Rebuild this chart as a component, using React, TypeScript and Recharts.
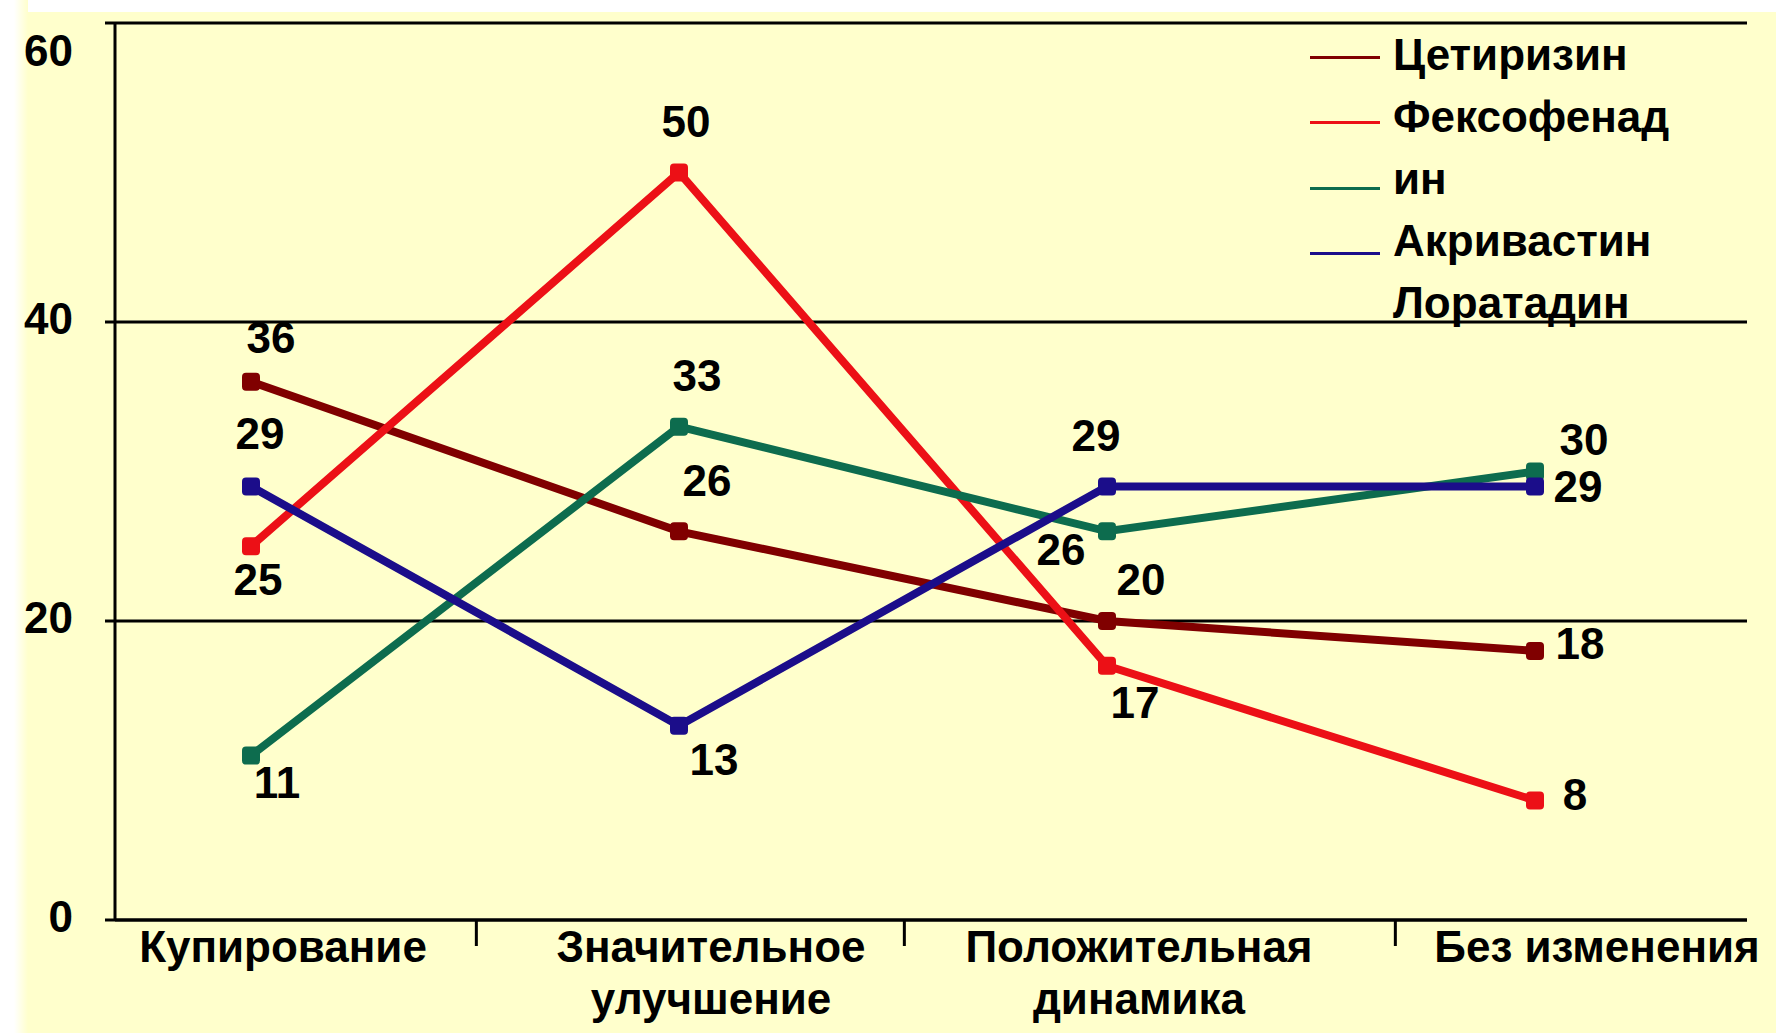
import { useEffect } from "react";
import { LineChart, Line, XAxis, YAxis, CartesianGrid, Legend, LabelList } from "recharts";

// outcome categories and share of patients (%) per drug
const categories = ["Купирование", "Значительное улучшение", "Положительная динамика", "Без изменения"];
const cetirizine = [36, 26, 20, 18];
const fexofenadine = [25, 50, 17, 8];
const acrivastine = [11, 33, 26, 30];
const loratadine = [29, 13, 29, 29];
const yTicks = [0, 20, 40, 60];

const data = categories.map((name, i) => ({
  name,
  cet: cetirizine[i],
  fex: fexofenadine[i],
  acr: acrivastine[i],
  lor: loratadine[i],
}));

const FONT = "'Liberation Sans', Arial, sans-serif";
const BG = "#ffffcc";
const W = 1776;
const H = 1033;
const STEP = 426.7; // distance between category points

// label offsets (dx, dy) from each point
const series = [
  { key: "cet", name: "Цетиризин", color: "#800000", labels: [[20, -44], [28, -51], [34, -42], [45, -7]] },
  { key: "fex", name: "Фексофенадин", color: "#ec1016", labels: [[7, 33], [7, -51], [28, 37], [40, -6]] },
  { key: "acr", name: "Акривастин", color: "#0d6c4e", labels: [[26, 27], [18, -51], [-46, 18], [49, -32]] },
  { key: "lor", name: "Лоратадин", color: "#1b0d8a", labels: [[9, -53], [35, 34], [-11, -51], [43, 0]] },
];

const makeLabel = (offsets: number[][]) => (props: any) => {
  const x = props.x ?? props.viewBox?.x;
  const y = props.y ?? props.viewBox?.y;
  const [dx, dy] = offsets[props.index] || [0, 0];
  return (
    <text x={x + dx} y={y + dy} textAnchor="middle" dominantBaseline="central"
      fontFamily={FONT} fontWeight={700} fontSize={44} fill="#000">
      {props.value}
    </text>
  );
};

const SquareDot = (color: string) => (props: any) => {
  const { cx, cy, index } = props;
  if (cx == null || cy == null) return <g key={index} />;
  return <rect key={index} x={cx - 9} y={cy - 9} width={18} height={18} rx={4} fill={color} />;
};

const CategoryTick = (props: any) => {
  const { x, y, payload, index } = props;
  const bx = x + STEP / 2 + (index === categories.length - 2 ? 75 : 12);
  const text = String(payload.value);
  const lines = text.length > 14 ? text.split(" ") : [text];
  const lx = x + (index === categories.length - 1 ? 62 : 32);
  return (
    <g>
      {index < categories.length - 1 && (
        <line x1={bx} x2={bx} y1={y} y2={y + 26} stroke="#000" strokeWidth={3} />
      )}
      <text x={lx} y={y + 42} textAnchor="middle"
        fontFamily={FONT} fontWeight={700} fontSize={44} fill="#000">
        {lines.map((ln, i) => (
          <tspan key={i} x={lx} dy={i === 0 ? 0 : 52}>{ln}</tspan>
        ))}
      </text>
    </g>
  );
};

const ValueTick = (props: any) => {
  const { x, y, payload } = props;
  const dy = payload.value === yTicks[yTicks.length - 1] ? 27 : -4;
  return (
    <text x={x} y={y + dy} textAnchor="end" dominantBaseline="central"
      fontFamily={FONT} fontWeight={700} fontSize={44} fill="#000">
      {payload.value}
    </text>
  );
};

const renderLegend = (props: any) => {
  const order = series.map((s) => s.key);
  const payload = [...(props.payload || [])].sort(
    (a: any, b: any) => order.indexOf(a.dataKey) - order.indexOf(b.dataKey)
  );
  return (
    <div style={{ position: "relative", width: 460, height: 320 }}>
      {payload.map((entry: any, i: number) => (
        <div key={"sw" + i} style={{
          position: "absolute", left: 0, top: 32 + i * 65.3, width: 70, height: 3, background: entry.color,
        }} />
      ))}
      <div style={{
        position: "absolute", left: 83, top: 0, width: 290, lineHeight: "62px",
        fontFamily: FONT, fontSize: 44, fontWeight: 700, color: "#000", wordBreak: "break-all",
      }}>
        {payload.map((entry: any, i: number) => <div key={i}>{entry.value}</div>)}
      </div>
    </div>
  );
};

export default function App() {
  useEffect(() => {
    document.documentElement.style.background = BG;
    document.body.style.background = BG;
  }, []);
  return (
    <div style={{ position: "fixed", left: 0, top: 0, width: W, height: H, background: BG }}>
      {/* white page edge on the top and left */}
      <div style={{ position: "absolute", left: 0, top: 0, width: W, height: 12, background: "#fff" }} />
      <div style={{
        position: "absolute", left: 0, top: 0, width: 28, height: H,
        background: `linear-gradient(to right, #fff 0px, #fff 14px, ${BG} 28px)`,
      }} />
      <div style={{ position: "absolute", left: 0, top: 0 }}>
        <LineChart width={W} height={H} data={data} margin={{ top: 23, right: 29, bottom: 0, left: 15 }}>
          <CartesianGrid vertical={false} stroke="#000" strokeWidth={3} />
          <XAxis dataKey="name" height={113} padding={{ left: 136, right: 212 }}
            axisLine={{ stroke: "#000", strokeWidth: 3 }} tickLine={false}
            tickSize={0} tickMargin={0} tick={<CategoryTick />} interval={0} />
          <YAxis domain={[0, 60]} ticks={yTicks} width={100}
            axisLine={{ stroke: "#000", strokeWidth: 3 }}
            tickLine={{ stroke: "#000", strokeWidth: 3 }} tickSize={10} tickMargin={32}
            tick={<ValueTick />} />
          <Legend layout="vertical" align="center" verticalAlign="middle" content={renderLegend}
            wrapperStyle={{ left: 1310, top: 24, width: 460 }} />
          {series.map((s) => (
            <Line key={s.key} type="linear" dataKey={s.key} name={s.name} stroke={s.color}
              strokeWidth={8} dot={SquareDot(s.color)} activeDot={false} isAnimationActive={false}>
              <LabelList dataKey={s.key} content={makeLabel(s.labels)} />
            </Line>
          ))}
        </LineChart>
      </div>
    </div>
  );
}
